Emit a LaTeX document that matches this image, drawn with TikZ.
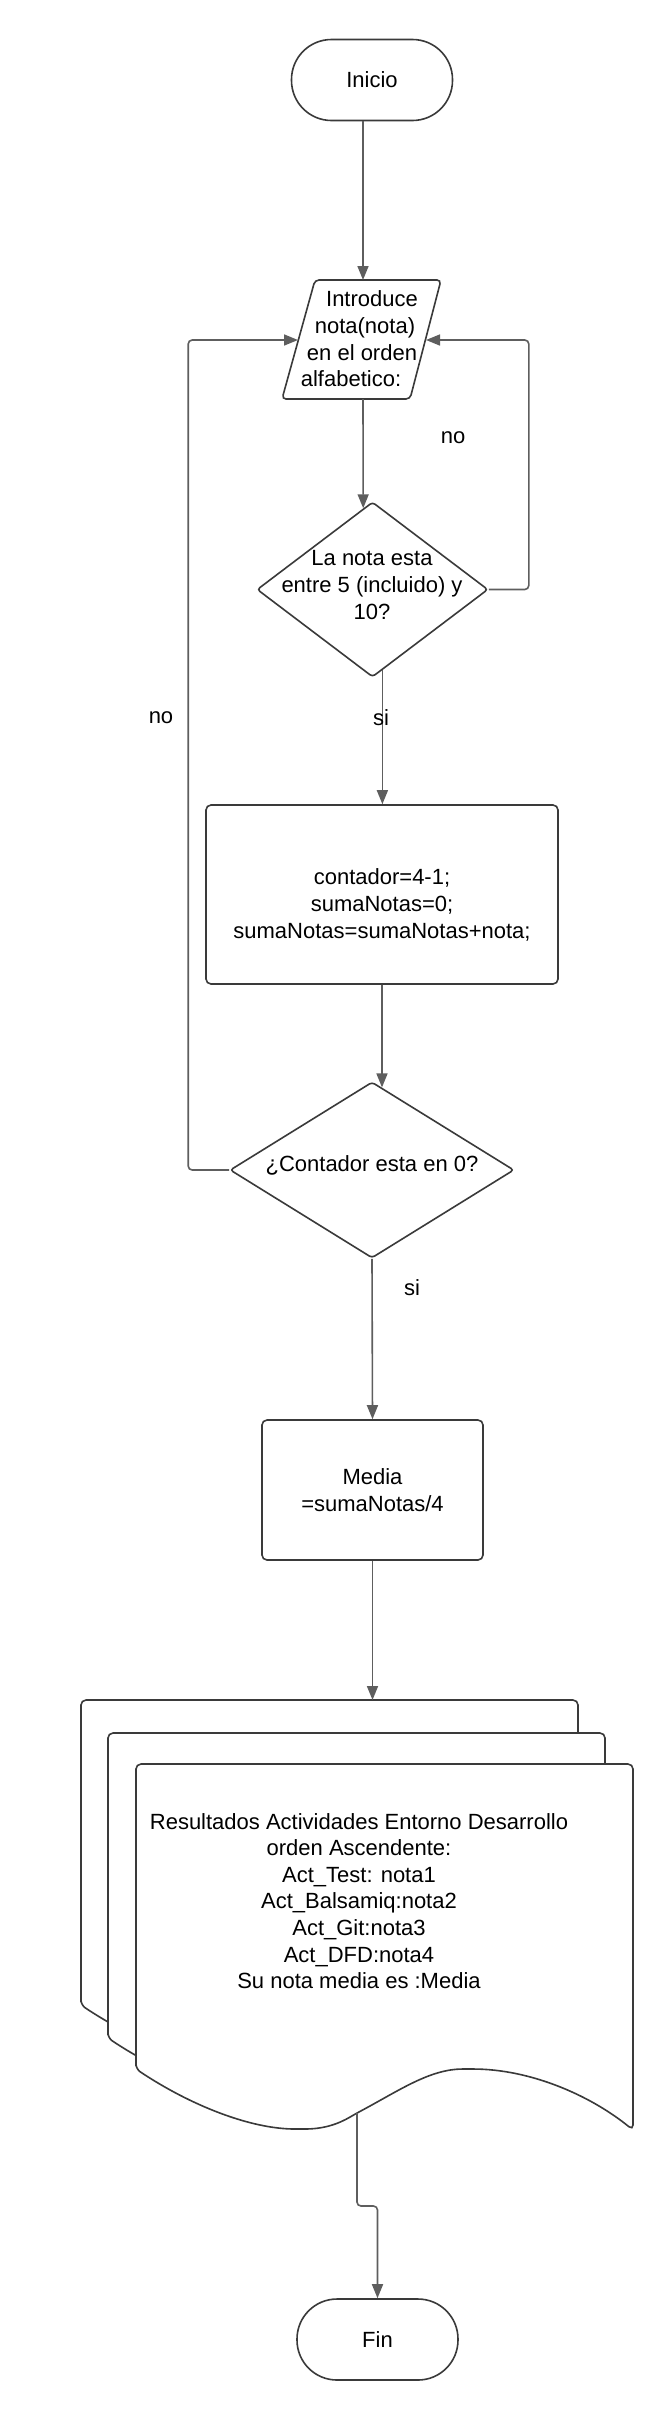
\documentclass[tikz,border=0pt]{standalone}
\usepackage{fontspec}
\setmainfont{Liberation Sans}
\usetikzlibrary{arrows.meta,shapes.geometric,calc}
\definecolor{shapecol}{HTML}{3A3A3A}
\definecolor{conncol}{HTML}{5E5E5E}
\begin{document}
\begin{tikzpicture}[x=1pt,y=-1pt,
  shp/.style={draw=shapecol, line width=1.6pt, fill=white},
  conn/.style={draw=conncol, line width=1.6pt, -{Triangle[length=14pt,width=11pt]}, rounded corners=4pt},
  txt/.style={font=\fontsize{22}{26.6}\selectfont, align=center, inner sep=0pt, text=black},
  term/.style={shp, rounded corners=40pt, minimum width=161pt, minimum height=81pt, inner sep=0pt, font=\fontsize{22}{26.6}\selectfont},
  box/.style={shp, rounded corners=5pt, inner sep=0pt, align=center, font=\fontsize{22}{26.6}\selectfont},
  dia/.style={shp, diamond, rounded corners=3pt, inner sep=0pt}
]
\fill[white] (0,0) rectangle (669,2420);
\useasboundingbox (0,0) rectangle (669,2420);

% Inicio
\node[term] (inicio) at (372,80) {Inicio};

% parallelogram
\draw[shp, rounded corners=4pt] (315,280) -- (441,280) -- (410,399) -- (282,399) -- cycle;
\node[txt] (par) at (362,339) {\hspace*{20pt}Introduce\\\hspace*{6pt}nota(nota)\\en el orden\hspace*{8pt}\\alfabetico:\hspace*{22pt}};
\coordinate (partop) at (363,280);
\coordinate (parbot) at (363,399);
\coordinate (parL) at (298,340);
\coordinate (parR) at (426,340);

% decision 1
\node[dia, minimum width=231pt, minimum height=175pt] (d1) at (372.5,589.5) {};
\node[txt] (d1t) at (372,585) {La nota esta\\entre 5 (incluido) y\\10?};

% process 1
\node[box, minimum width=352pt, minimum height=179pt] (r1) at (382,894.5) {};
\node[txt] (r1t) at (382,905) {contador=4-1;\\sumaNotas=0;\\sumaNotas=sumaNotas+nota;};

% decision 2
\node[dia, minimum width=284pt, minimum height=176pt] (d2) at (372,1170) {};
\node[txt] (d2t) at (372,1165) {¿Contador esta en 0?};

% process 2
\node[box, minimum width=221pt, minimum height=140pt] (r2) at (372.5,1490) {Media\\=sumaNotas/4};

% multi-document
\foreach \dx/\dy in {-55/-64,-28/-31,0/0}{
  \begin{scope}[shift={(\dx,\dy)}]
    \draw[shp, rounded corners=5pt] (136,2069) -- (136,1764) -- (633,1764) -- (633,2130)
      .. controls (590,2095) and (530,2069) .. (468,2069)
      .. controls (430,2069) and (400,2090) .. (357,2113)
      .. controls (345,2120) and (330,2129) .. (300,2129)
      .. controls (250,2129) and (190,2105) .. (136,2069) -- cycle;
  \end{scope}
}
\node[txt] (doct) at (359,1901) {Resultados Actividades Entorno Desarrollo\\orden Ascendente:\\Act\_Test: nota1\\Act\_Balsamiq:nota2\\Act\_Git:nota3\\Act\_DFD:nota4\\Su nota media es :Media};
\coordinate (doctop) at (372.5,1700);
\coordinate (docbot) at (357,2113);

% Fin
\node[term] (fin) at (377.5,2339.5) {Fin};

% connectors
\draw[conn] (inicio.south -| partop) -- (partop);
\draw[conn] (parbot) -- ($(d1.north)!0.08!(d1.west)$);
\draw[conn] ($(d1.south)!0.085!(d1.east)$) coordinate (s1) -- (s1 |- r1.north);
\draw[conn] (r1.south) -- ($(d2.north)!0.07!(d2.east)$);
\draw[conn] (d2.south) -- (r2.north);
\draw[conn] (r2.south) -- (doctop);
\draw[conn] (docbot) -- ++(0,93) -| (fin.north);
\draw[conn] (d1.east) -- ++(40,0) |- (parR);
\draw[conn] (d2.west) -- ++(-41,0) |- (parL);

% labels
\node[txt] (no1) at (453,438) {no};
\node[txt] (no2) at (161,718) {no};
\node[txt] (si1) at (381,718) {si};
\node[txt] (si2) at (412,1288) {si};
\end{tikzpicture}
\end{document}
